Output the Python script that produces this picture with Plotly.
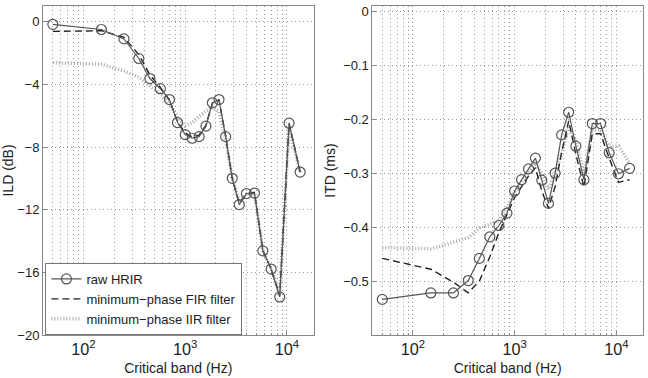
import plotly.graph_objects as go

freqs = [50, 150, 250, 350, 450, 570, 700, 840, 1000, 1170, 1370, 1600,
         1850, 2150, 2500, 2900, 3400, 4000, 4800, 5800, 7000, 8500, 10500, 13500]

ild_raw = [-0.17, -0.5, -1.1, -2.35, -3.63, -4.28, -4.97, -6.44, -7.21, -7.44, -7.34, -6.67,
           -5.18, -4.97, -7.34, -10.0, -11.68, -10.97, -10.94, -14.63, -15.79, -17.57, -6.48, -9.6]
ild_fir = [-0.62, -0.58, -1.0, -2.1, -3.4, -4.2, -5.0, -6.4, -7.1, -7.35, -7.25, -6.6,
           -5.2, -5.0, -7.3, -10.0, -11.6, -11.0, -10.9, -14.6, -15.8, -17.5, -6.5, -9.6]
ild_iir = [-2.62, -2.72, -3.15, -3.55, -4.1, -4.6, -5.2, -6.1, -6.65, -6.45, -6.05, -5.7,
           -5.45, -5.75, -7.5, -10.0, -11.5, -11.0, -11.0, -14.6, -15.8, -17.4, -6.8, -9.6]

itd_raw = [-0.534, -0.522, -0.522, -0.499, -0.458, -0.418, -0.397, -0.374, -0.333, -0.312, -0.292, -0.272,
           -0.313, -0.356, -0.300, -0.229, -0.187, -0.250, -0.312, -0.208, -0.208, -0.262, -0.301, -0.291]
itd_fir = [-0.458, -0.478, -0.502, -0.522, -0.500, -0.455, -0.410, -0.378, -0.345, -0.325, -0.305, -0.290,
           -0.333, -0.365, -0.325, -0.261, -0.203, -0.265, -0.326, -0.227, -0.227, -0.272, -0.317, -0.312]
itd_iir = [-0.438, -0.440, -0.428, -0.419, -0.402, -0.395, -0.388, -0.363, -0.335, -0.315, -0.298, -0.282,
           -0.300, -0.330, -0.300, -0.265, -0.215, -0.240, -0.300, -0.220, -0.220, -0.250, -0.250, -0.282]

ild_ticks = [0, -4, -8, -12, -16, -20]
ild_labels = ["0", "\u22124", "\u22128", "\u221212", "\u221216", "\u221220"]
itd_ticks = [0, -0.1, -0.2, -0.3, -0.4, -0.5]
itd_labels = ["0", "\u22120.1", "\u22120.2", "\u22120.3", "\u22120.4", "\u22120.5"]

names = ["raw HRIR", "minimum\u2212phase FIR filter", "minimum\u2212phase IIR filter"]

fig = go.Figure()

def add_set(raw, fir, iir, xa, ya, show):
    fig.add_trace(go.Scatter(x=freqs, y=iir, mode="lines", name=names[2],
                             line=dict(color="#a8a8a8", width=3.5, dash="1px,2px"),
                             xaxis=xa, yaxis=ya, showlegend=show, legendrank=3))
    fig.add_trace(go.Scatter(x=freqs, y=fir, mode="lines", name=names[1],
                             line=dict(color="#222222", width=1.4, dash="7px,4px"),
                             xaxis=xa, yaxis=ya, showlegend=show, legendrank=2))
    fig.add_trace(go.Scatter(x=freqs, y=raw, mode="lines+markers", name=names[0],
                             line=dict(color="#555555", width=1.2),
                             marker=dict(symbol="circle-open", size=10, color="#555555",
                                         line=dict(width=1.2)),
                             xaxis=xa, yaxis=ya, showlegend=show, legendrank=1))

add_set(ild_raw, ild_fir, ild_iir, "x", "y", True)
add_set(itd_raw, itd_fir, itd_iir, "x2", "y2", False)

font = dict(family="Liberation Sans, Arial, sans-serif", size=13, color="#222222")
grid = dict(showgrid=True, gridcolor="#999999", griddash="1px,3px", gridwidth=1)
xcommon = dict(type="log", range=[1.602, 4.262], dtick=1, exponentformat="power",
               showline=True, linecolor="#888888", linewidth=1, mirror=True,
               ticks="inside", ticklen=4, tickcolor="#888888", zeroline=False,
               minor=dict(ticks="inside", ticklen=2, tickcolor="#888888", showgrid=True,
                          gridcolor="#a0a0a0", griddash="1px,3px", gridwidth=1),
               title=dict(text="Critical band (Hz)", font=dict(size=14), standoff=6),
               tickfont=dict(size=13), **grid)
ycommon = dict(showline=True, linecolor="#888888", linewidth=1, mirror=True,
               ticks="inside", ticklen=4, tickcolor="#888888", zeroline=False,
               tickfont=dict(size=13), **grid)

W = 648 - 43 - 4
fig.update_layout(
    width=648, height=378,
    margin=dict(l=43, r=4, t=5, b=42),
    paper_bgcolor="white", plot_bgcolor="white",
    font=font,
    xaxis=dict(domain=[0, 271 / W], **xcommon),
    xaxis2=dict(domain=[330 / W, 1], anchor="y2", **xcommon),
    yaxis=dict(range=[-20, 1], tickvals=ild_ticks, ticktext=ild_labels, anchor="x",
               title=dict(text="ILD (dB)", font=dict(size=14), standoff=4), **ycommon),
    yaxis2=dict(range=[-0.6, 0.01], tickvals=itd_ticks, ticktext=itd_labels, anchor="x2",
                title=dict(text="ITD (ms)", font=dict(size=14), standoff=4), **ycommon),
    legend=dict(x=0.004, y=0.0, xanchor="left", yanchor="bottom",
                bgcolor="white", bordercolor="#777777", borderwidth=1,
                font=dict(size=13), tracegroupgap=0, itemsizing="trace"),
    showlegend=True,
)

fig.write_html("out.html")
